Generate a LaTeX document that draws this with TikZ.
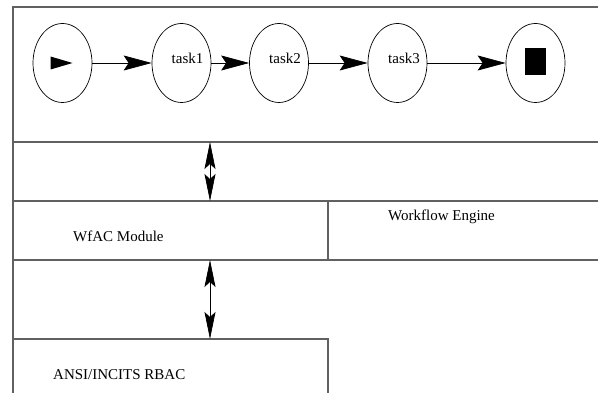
\documentclass[tikz,border=0pt]{standalone}
\usepackage{fontspec}
\setmainfont{Liberation Serif}
\usetikzlibrary{arrows.meta,positioning,shapes.geometric}
\tikzset{
  layerln/.style={line width=1.1pt, black!62},
  taskell/.style={ellipse, draw, line width=0.7pt, minimum width=59pt,
    minimum height=79pt, inner sep=0pt},
  tasklbl/.style={font=\rmfamily\fontsize{15}{18}\selectfont},
  layertxt/.style={font=\rmfamily\fontsize{15}{18}\selectfont, inner sep=0pt, anchor=base west},
  flowar/.style={-{Stealth[length=28pt,width=15pt,inset=5pt]}, line width=0.7pt},
  linkar/.style={{Stealth[length=27pt,width=11pt,inset=5pt]}-{Stealth[length=27pt,width=11pt,inset=5pt]},
    line width=0.7pt},
}

\begin{document}
\begin{tikzpicture}[x=1pt, y=-1pt]
    \useasboundingbox (0,0) rectangle (598,393);
    % layer frames
    \draw[layerln] (13,393) -- (13,7) -- (598,7);
    \draw[layerln] (13,142) -- (598,142);
    \draw[layerln] (13,201) -- (598,201);
    \draw[layerln] (13,260) -- (598,260);
    \draw[layerln] (328,201) -- (328,260);
    \draw[layerln] (13,339) -- (328,339) -- (328,393);
    % workflow tasks
    \node[taskell] (start) at (62.5,63) {};
    \node[taskell, label={[tasklbl, xshift=6pt, yshift=4.5pt]center:task1}] (task1) at (181.5,63) {};
    \node[taskell, label={[tasklbl, xshift=6pt, yshift=4.5pt]center:task2}] (task2) at (279,63) {};
    \node[taskell, label={[tasklbl, xshift=6.5pt, yshift=4.5pt]center:task3}] (task3) at (397.5,63) {};
    \node[taskell] (stop) at (535.5,63) {};
    \fill[shift={(start.center)}] (-12,-6.5) -- (10,0) -- (-12,6.5) -- cycle;
    \fill[shift={(stop.center)}] (-10.5,-15) rectangle (10.5,12);
    \draw[flowar] (start) -- (task1);
    \draw[flowar] (task1) -- (task2);
    \draw[flowar] (task2) -- (task3);
    \draw[flowar] (task3) -- (stop);
    % layer names
    \node[layertxt] (wfac) at (73,242) {WfAC Module};
    \node[layertxt] (engine) at (388,221) {Workflow Engine};
    \node[layertxt] (rbac) at (53,379) {ANSI/INCITS RBAC};
    % links between layers
    \coordinate (flowbot) at (210,142);
    \coordinate (wfactop) at (210,201);
    \coordinate (wfacbot) at (210,260);
    \coordinate (rbactop) at (210,339);
    \draw[linkar] (flowbot) -- (wfactop);
    \draw[linkar] (wfacbot) -- (rbactop);
\end{tikzpicture}
\end{document}
